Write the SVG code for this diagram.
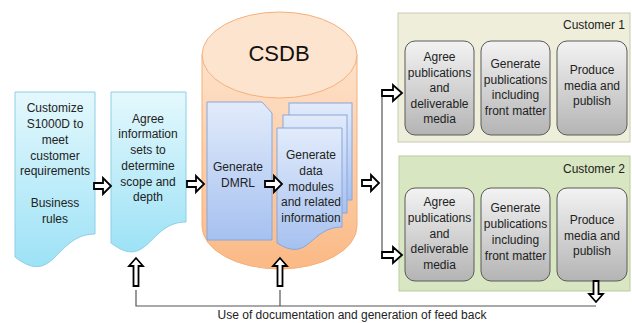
<svg xmlns="http://www.w3.org/2000/svg" width="632" height="323" viewBox="0 0 632 323">
<defs>
<linearGradient id="gCyan" x1="0" y1="0" x2="0" y2="1"><stop offset="0" stop-color="#e4f8fd"/><stop offset="1" stop-color="#9de2f6"/></linearGradient>
<linearGradient id="gBlue" x1="0" y1="0" x2="0" y2="1"><stop offset="0" stop-color="#e2ebfb"/><stop offset="1" stop-color="#a6c1f0"/></linearGradient>
<linearGradient id="gOrange" x1="0" y1="0" x2="0" y2="1"><stop offset="0" stop-color="#fde2cb"/><stop offset="1" stop-color="#fbb985"/></linearGradient>
<linearGradient id="gGray" x1="0" y1="0" x2="0" y2="1"><stop offset="0" stop-color="#f3f3f3"/><stop offset="1" stop-color="#b4b4b4"/></linearGradient>
<style>
text{font-family:"Liberation Sans",Arial,sans-serif;font-size:12px;fill:#222;text-anchor:middle}
.cyan{fill:url(#gCyan);stroke:#8ccfe6;stroke-width:1}
.blue{fill:url(#gBlue);stroke:#89a6da;stroke-width:1}
.gbox{fill:url(#gGray);stroke:#5a5a5a;stroke-width:1}
.arr{fill:#fff;stroke:#000;stroke-width:1.8;stroke-linejoin:miter}
.ln{fill:none;stroke:#555;stroke-width:1.2}
.lbl{text-anchor:end}
</style>
</defs>

<g id="customize">
<path class="cyan" d="M15,92 H95 V234 C55,234 55,288 15,257 Z"/>
<text x="55" y="112">Customize</text>
<text x="55" y="128">S1000D to</text>
<text x="55" y="144">meet</text>
<text x="55" y="160">customer</text>
<text x="55" y="175">requirements</text>
<text x="55" y="207">Business</text>
<text x="55" y="223">rules</text>
</g>

<g id="agree-info">
<path class="cyan" d="M111,92 H186 V222 C148.5,222 148.5,271.5 111,243 Z"/>
<text x="148" y="123">Agree</text>
<text x="148" y="138">information</text>
<text x="148" y="154">sets to</text>
<text x="148" y="170">determine</text>
<text x="148" y="186">scope and</text>
<text x="148" y="201">depth</text>
</g>

<g id="csdb">
<path d="M202,55 V226 A77.5,43 0 0 0 357,226 V55 Z" fill="url(#gOrange)" stroke="#f5b07a" stroke-width="1"/>
<ellipse cx="279.5" cy="55" rx="77.5" ry="43" fill="#fde4cf" stroke="#f5b07a" stroke-width="1"/>
<text x="279" y="61" style="font-size:22px;fill:#111">CSDB</text>
</g>

<g id="dmrl">
<path class="blue" d="M207,102 H262 L272,113 V240 H207 Z"/>
<text x="238" y="171">Generate</text>
<text x="238" y="187">DMRL</text>
</g>

<g id="data-modules">
<rect class="blue" x="289" y="103" width="63" height="97"/>
<rect class="blue" x="283" y="115" width="64" height="98"/>
<path class="blue" d="M277,128 H342 V227 C309.5,227 309.5,264 277,243 Z"/>
<text x="311" y="159">Generate</text>
<text x="311" y="175">data</text>
<text x="311" y="191">modules</text>
<text x="311" y="206">and related</text>
<text x="311" y="222">information</text>
</g>

<g id="customer1">
<rect x="398" y="13" width="232" height="129" fill="#eeeedb" stroke="#c9c9b3" stroke-width="1"/>
<text class="lbl" x="625" y="29">Customer 1</text>
<rect class="gbox" x="405" y="41" width="69" height="94" rx="10"/>
<rect class="gbox" x="481" y="41" width="69" height="94" rx="10"/>
<rect class="gbox" x="557" y="41" width="70" height="94" rx="10"/>
<text x="439.5" y="61">Agree</text>
<text x="439.5" y="76.5">publications</text>
<text x="439.5" y="92">and</text>
<text x="439.5" y="107.5">deliverable</text>
<text x="439.5" y="123">media</text>
<text x="515.5" y="68">Generate</text>
<text x="515.5" y="83.5">publications</text>
<text x="515.5" y="99">including</text>
<text x="515.5" y="114.5">front matter</text>
<text x="592" y="74">Produce</text>
<text x="592" y="89.5">media and</text>
<text x="592" y="105">publish</text>
</g>

<g id="customer2">
<rect x="399" y="156" width="231" height="135" fill="#d8e6c1" stroke="#bccba3" stroke-width="1"/>
<text class="lbl" x="625" y="173">Customer 2</text>
<rect class="gbox" x="405" y="188" width="69" height="93" rx="10"/>
<rect class="gbox" x="481" y="188" width="69" height="93" rx="10"/>
<rect class="gbox" x="557" y="188" width="70" height="93" rx="10"/>
<text x="439.5" y="206">Agree</text>
<text x="439.5" y="222">publications</text>
<text x="439.5" y="237.5">and</text>
<text x="439.5" y="253">deliverable</text>
<text x="439.5" y="269">media</text>
<text x="515.5" y="212">Generate</text>
<text x="515.5" y="228">publications</text>
<text x="515.5" y="243.5">including</text>
<text x="515.5" y="259.5">front matter</text>
<text x="592" y="224">Produce</text>
<text x="592" y="240">media and</text>
<text x="592" y="255">publish</text>
</g>

<g id="connectors">
<path class="ln" d="M382,97 V251"/>
<path class="ln" d="M136,290 V306 H596 M280,290 V306"/>
<path class="arr" d="M94,183 H103 V178 L111,186 L103,194 V189 H94 Z"/>
<path class="arr" d="M187,181 H196 V176 L204,184 L196,192 V187 H187 Z"/>
<path class="arr" d="M265,181 H274 V176 L282,184 L274,192 V187 H265 Z"/>
<path class="arr" d="M362,180 H371 V175 L379,183 L371,191 V186 H362 Z"/>
<path class="arr" d="M382,90 H393 V85 L402,93 L393,101 V96 H382 Z"/>
<path class="arr" d="M382,252 H393 V247 L402,255 L393,263 V258 H382 Z"/>
<path class="arr" d="M133.5,286 V266 H129 L136,258 L143,266 H138.5 V286 Z"/>
<path class="arr" d="M277.5,286 V266 H273 L280,258 L287,266 H282.5 V286 Z"/>
<path class="arr" d="M593.5,281 V294 H589 L596,302 L603,294 H598.5 V281 Z"/>
<text x="352" y="319">Use of documentation and generation of feed back</text>
</g>
</svg>
